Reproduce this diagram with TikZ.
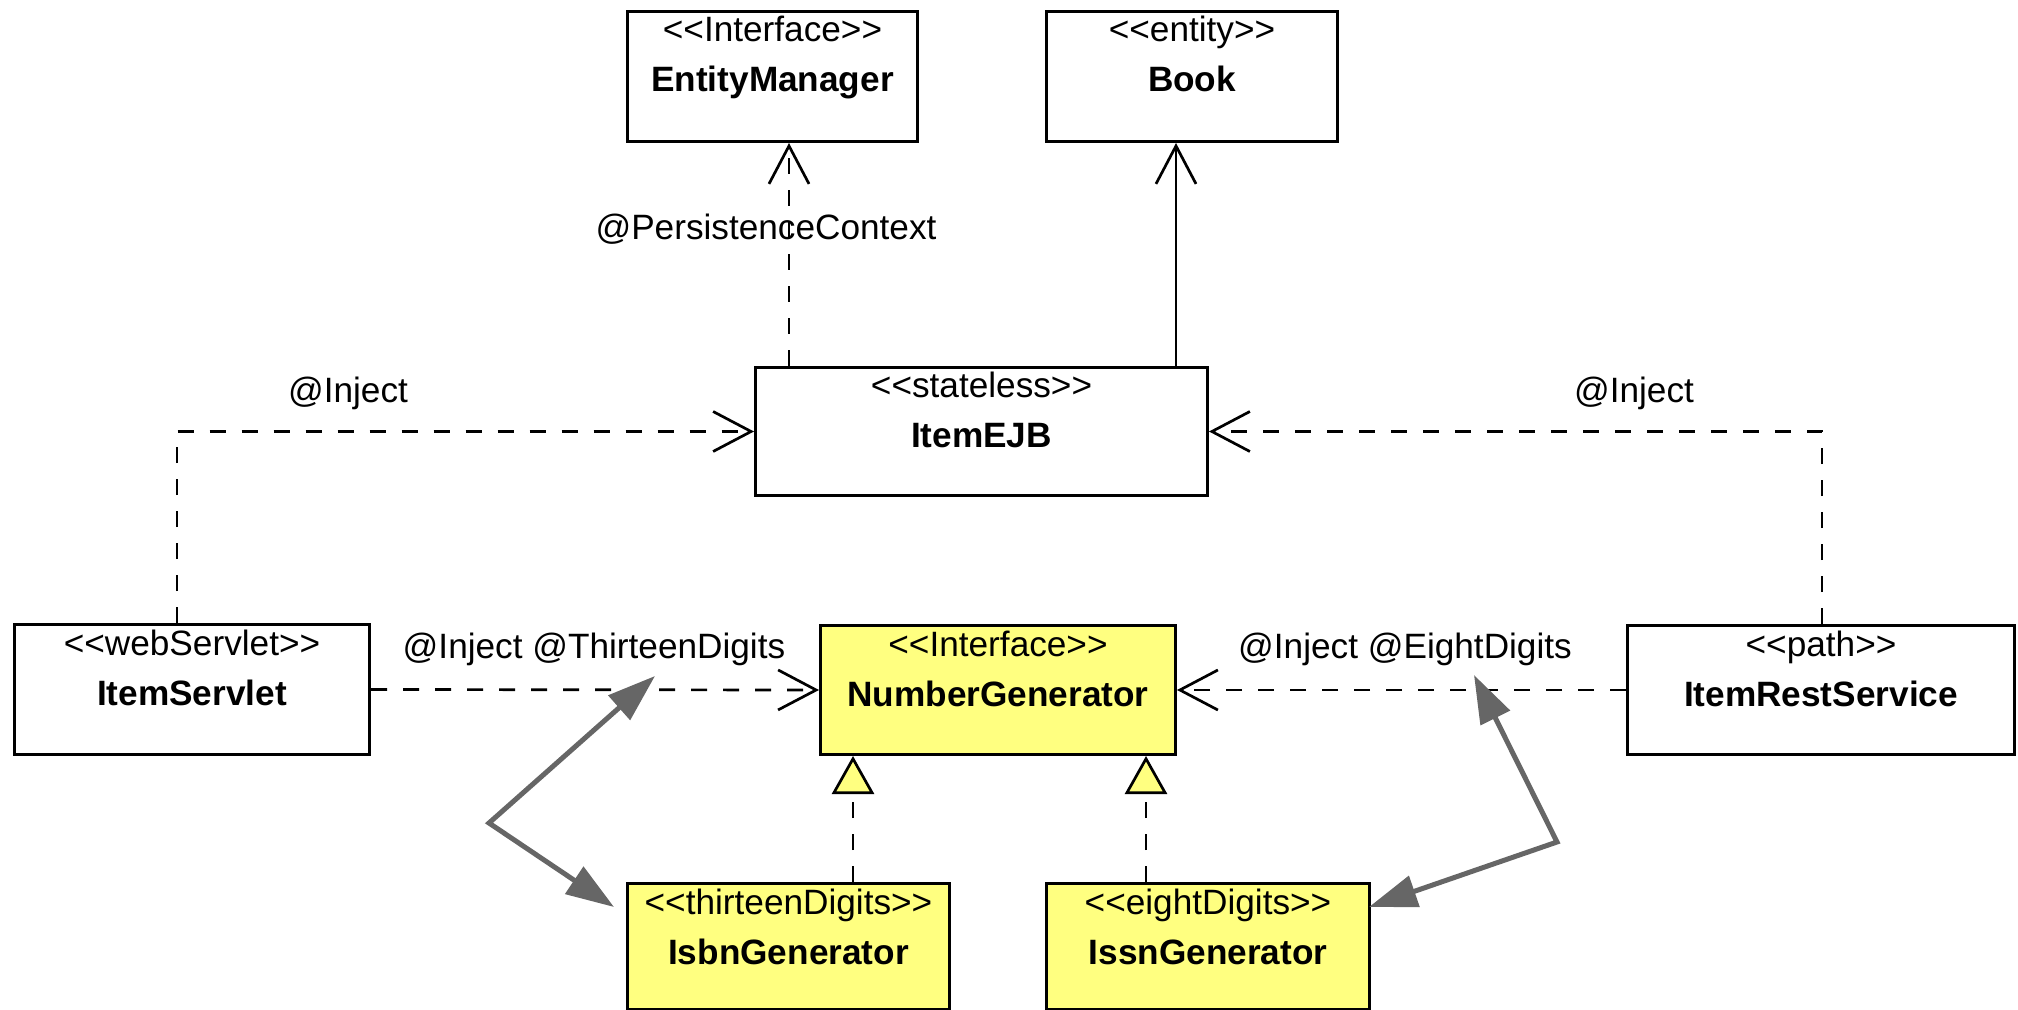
\documentclass[tikz,border=0pt]{standalone}
\usepackage{fontspec}
\setmainfont{Liberation Sans}[Ligatures=TeXOff]
\usetikzlibrary{arrows.meta,calc}
\definecolor{umlyellow}{RGB}{255,255,128}
\definecolor{notegray}{RGB}{102,102,102}
\tikzset{
  umlbox/.style={draw=black, line width=1.5pt, inner sep=0pt, anchor=north west, fill=white},
  ybox/.style={umlbox, fill=umlyellow},
  stereo/.style={anchor=base, inner sep=0pt, font=\fontsize{17.6}{21}\selectfont},
  cname/.style={anchor=base, inner sep=0pt, font=\bfseries\fontsize{17.6}{21}\selectfont},
  lbl/.style={anchor=base, inner sep=0pt, font=\fontsize{17.6}{21}\selectfont},
  conn/.style={draw=black, line width=1.35pt},
  dep/.style={conn, dash pattern=on 8pt off 8pt},
  openhead/.style={-{Straight Barb[length=19pt,width=20pt]}},
  realize/.style={-{Triangle[length=19pt,width=21pt,fill=umlyellow]}},
  note/.style={draw=notegray, line width=2.5pt, line join=miter,
    {Triangle[length=24pt,width=16pt]}-{Triangle[length=24pt,width=16pt]}},
}
\begin{document}
\begin{tikzpicture}[x=0.5pt, y=-0.5pt]
\useasboundingbox (0,0) rectangle (2018,1010);

% class boxes
\node[umlbox, minimum width=145pt, minimum height=65pt] (em) at (626,10) {};
\node[umlbox, minimum width=145.5pt, minimum height=65pt] (book) at (1045,10) {};
\node[umlbox, minimum width=226pt, minimum height=64pt] (ejb) at (754,366) {};
\node[umlbox, minimum width=177.5pt, minimum height=65pt] (servlet) at (13,623) {};
\node[ybox, minimum width=177.5pt, minimum height=64.5pt] (numgen) at (819,624) {};
\node[umlbox, minimum width=193.5pt, minimum height=64.5pt] (rest) at (1626,624) {};
\node[ybox, minimum width=161pt, minimum height=63pt] (isbn) at (626,882) {};
\node[ybox, minimum width=161.5pt, minimum height=63pt] (issn) at (1045,882) {};

% stereotypes and class names
\node[stereo] (emst) at ([yshift=-16pt]em.north) {<<Interface>>};
\node[cname] (emnm) at ([yshift=-41pt]em.north) {EntityManager};
\node[stereo] (bookst) at ([yshift=-16pt]book.north) {<<entity>>};
\node[cname] (booknm) at ([yshift=-41pt]book.north) {Book};
\node[stereo] (ejbst) at ([yshift=-16pt]ejb.north) {<<stateless>>};
\node[cname] (ejbnm) at ([yshift=-41pt]ejb.north) {ItemEJB};
\node[stereo] (servletst) at ([yshift=-16pt]servlet.north) {<<webServlet>>};
\node[cname] (servletnm) at ([yshift=-41pt]servlet.north) {ItemServlet};
\node[stereo] (numgenst) at ([yshift=-16pt]numgen.north) {<<Interface>>};
\node[cname] (numgennm) at ([yshift=-41pt]numgen.north) {NumberGenerator};
\node[stereo] (restst) at ([yshift=-16pt]rest.north) {<<path>>};
\node[cname] (restnm) at ([yshift=-41pt]rest.north) {ItemRestService};
\node[stereo] (isbnst) at ([yshift=-16pt]isbn.north) {<<thirteenDigits>>};
\node[cname] (isbnnm) at ([yshift=-41pt]isbn.north) {IsbnGenerator};
\node[stereo] (issnst) at ([yshift=-16pt]issn.north) {<<eightDigits>>};
\node[cname] (issnnm) at ([yshift=-41pt]issn.north) {IssnGenerator};

% connector labels
\node[lbl] (pclbl) at (766,240) {@PersistenceContext};
\node[lbl] (injl) at (348,402) {@Inject};
\node[lbl] (injr) at (1634,402) {@Inject};
\node[lbl] (inj13) at (594,658) {@Inject @ThirteenDigits};
\node[lbl] (inj8) at (1405,658) {@Inject @EightDigits};

% dependencies
\coordinate (pc) at ($(ejb.north west)+(35,0)$);
\draw[dep, openhead] (pc) -- (pc |- em.south);
\coordinate (bk) at ($(ejb.north west)+(422,0)$);
\draw[conn, openhead] (bk) -- (bk |- book.south);
\draw[dep, openhead] ($(servlet.north west)+(164,0)$) |- (ejb.west);
\draw[dep, openhead] ($(rest.north west)+(196,0)$) |- (ejb.east);
\draw[dep, openhead] (servlet.east) -- (numgen.west);
\draw[dep, openhead] (rest.west) -- (numgen.east);

% realizations
\coordinate (r1) at ($(numgen.south west)+(34,0)$);
\draw[dep, realize] (isbn.north -| r1) -- (r1);
\coordinate (r2) at ($(numgen.south east)+(-31,0)$);
\draw[dep, realize] (issn.north -| r2) -- (r2);

% gray pointers between qualifiers and implementations
\coordinate (c1) at (489,823);
\coordinate (a1) at (655,676);
\coordinate (b1) at (614,907);
\draw[note] (a1) -- (c1) -- (b1);
\coordinate (c2) at (1557,842);
\coordinate (a2) at (1474,675);
\coordinate (b2) at (1369,907);
\draw[note] (a2) -- (c2) -- (b2);
\end{tikzpicture}
\end{document}
